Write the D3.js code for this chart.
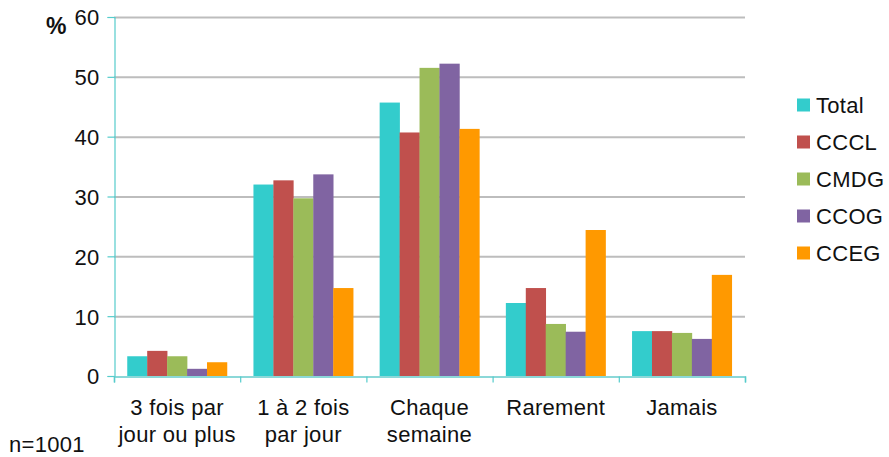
<!DOCTYPE html>
<html><head><meta charset="utf-8">
<script src="https://cdn.jsdelivr.net/npm/d3@7"></script>
<style>body{margin:0;background:#fff}svg{display:block;font-family:"Liberation Sans",Arial,sans-serif}</style>
</head><body><svg id="c" width="889" height="457"></svg>
<script>
const categories = [["3 fois par","jour ou plus"],["1 à 2 fois","par jour"],["Chaque","semaine"],["Rarement"],["Jamais"]];
const seriesNames = ["Total","CCCL","CMDG","CCOG","CCEG"];
const seriesColors = ["#33CCCC","#C0504D","#9BBB59","#8064A2","#FF9900"];
const total = [3.3, 32.0, 45.7, 12.2, 7.5];
const cccl  = [4.2, 32.7, 40.7, 14.7, 7.5];
const cmdg  = [3.3, 29.7, 51.5, 8.7, 7.2];
const ccog  = [1.2, 33.7, 52.2, 7.4, 6.2];
const cceg  = [2.3, 14.7, 41.3, 24.4, 16.9];
const yTicks = [0,10,20,30,40,50,60];
const values = [total,cccl,cmdg,ccog,cceg];

const svg = d3.select("#c");
const L=114, R=745, T=17, B=376;
const FS = 22, LS = "0.3px";
const x = d3.scaleBand().domain(d3.range(categories.length)).range([L,R]).paddingInner(0.21).paddingOuter(0.105);
const xs = d3.scaleBand().domain(d3.range(seriesNames.length)).range([0,x.bandwidth()]);
const y = d3.scaleLinear().domain([0,60]).range([B,T]);

// gridlines
svg.append("g").selectAll("line").data(yTicks.filter(d=>d>0)).join("line")
  .attr("x1",L).attr("x2",R).attr("y1",d=>y(d)+0.5).attr("y2",d=>y(d)+0.5)
  .attr("stroke","#bdbdbd").attr("stroke-width",2);

// bars
const g = svg.append("g");
values.forEach((vals,si)=>{
  g.append("g").selectAll("rect").data(vals).join("rect")
   .attr("x",(d,i)=>x(i)+xs(si)).attr("width",xs.bandwidth()+0.3)
   .attr("y",d=>y(d)).attr("height",d=>B-y(d)).attr("fill",seriesColors[si]);
});

// y axis
const yAxis = d3.axisLeft(y).tickValues(yTicks).tickSize(7).tickPadding(8);
const ya = svg.append("g").attr("transform",`translate(${L+0.5},0)`).call(yAxis);
ya.select(".domain").attr("stroke","#55CCCC").attr("stroke-width",1.2);
ya.selectAll(".tick line").attr("stroke","#55CCCC").attr("stroke-width",1.2);
ya.selectAll(".tick text").attr("font-size",FS).attr("fill","#111").attr("letter-spacing",LS).attr("font-family","Liberation Sans, Arial, sans-serif").attr("dy","0.36em");

// x axis
const xb = d3.scaleLinear().domain([0,categories.length]).range([L,R]);
const xa = svg.append("g").attr("transform",`translate(0,${B+0.5})`).call(d3.axisBottom(xb).ticks(5).tickSize(6).tickFormat(""));
xa.select(".domain").attr("stroke","#66CCCC").attr("stroke-width",1.5);
xa.selectAll(".tick line").attr("stroke","#55CCCC").attr("stroke-width",1.2);

// category labels
const lab = svg.append("g").attr("font-size",FS).attr("letter-spacing",LS).attr("fill","#111").attr("text-anchor","middle");
categories.forEach((lines,i)=>{
  const t = lab.append("text").attr("x",x(i)+x.bandwidth()/2).attr("y",415);
  lines.forEach((s,j)=>t.append("tspan").attr("x",x(i)+x.bandwidth()/2).attr("dy",j?27:0).text(s));
});

svg.append("text").attr("x",46).attr("y",34).attr("font-size",23).attr("font-weight","bold").attr("fill","#111").text("%");
svg.append("text").attr("x",9).attr("y",452).attr("font-size",FS).attr("letter-spacing",LS).attr("fill","#111").text("n=1001");

// legend
const lg = svg.append("g");
seriesNames.forEach((n,i)=>{
  const cy = 105 + i*37;
  lg.append("rect").attr("x",797).attr("y",cy-6.5).attr("width",13).attr("height",13).attr("fill",seriesColors[i]);
  lg.append("text").attr("x",816).attr("y",cy).attr("dy","0.36em").attr("font-size",FS).attr("letter-spacing",LS).attr("fill","#111").text(n);
});
</script></body></html>
